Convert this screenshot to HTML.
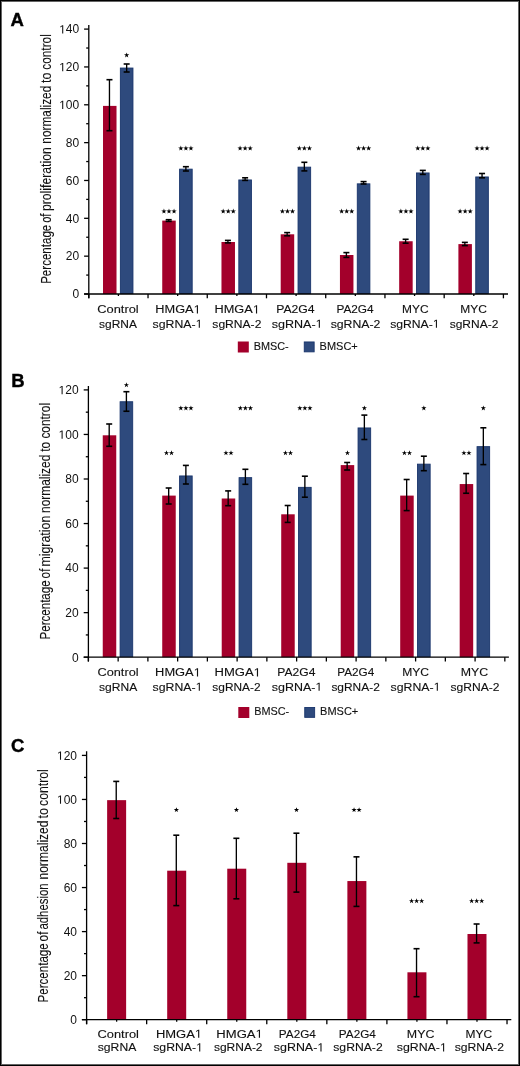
<!DOCTYPE html>
<html><head><meta charset="utf-8"><title>Figure</title><style>
html,body{margin:0;padding:0;background:#fff;}
svg{display:block;will-change:transform;}
text{font-family:"Liberation Sans", sans-serif;fill:#111;}
.xl{stroke:#111;stroke-width:0.12px;}
.yl{stroke:#111;stroke-width:0.1px;}
.tk{}
.h1{fill-opacity:0;stroke-opacity:0;}
.o1{fill:#111;}
path.xl{stroke:#111;stroke-width:0.12px;}
.pl{font-weight:bold;stroke:#000;stroke-width:0.4px;fill:#000;}
</style></head><body>
<svg width="520" height="1066" viewBox="0 0 520 1066">
<rect x="0" y="0" width="520" height="1066" fill="#fff"/>
<rect x="103.01" y="105.90" width="13.50" height="188.10" fill="#a3002b"/>
<line x1="109.46" y1="79.70" x2="109.46" y2="130.70" stroke="#000" stroke-width="1.35"/>
<line x1="106.46" y1="79.70" x2="112.46" y2="79.70" stroke="#000" stroke-width="1.6"/>
<line x1="106.46" y1="130.70" x2="112.46" y2="130.70" stroke="#000" stroke-width="1.6"/>
<rect x="120.36" y="68.05" width="12.60" height="225.50" fill="#2e4a7d" stroke="#18346b" stroke-width="0.9"/>
<line x1="126.66" y1="64.00" x2="126.66" y2="72.00" stroke="#000" stroke-width="1.35"/>
<line x1="123.66" y1="64.00" x2="129.66" y2="64.00" stroke="#000" stroke-width="1.6"/>
<line x1="123.66" y1="72.00" x2="129.66" y2="72.00" stroke="#000" stroke-width="1.6"/>
<rect x="162.24" y="220.60" width="13.50" height="73.40" fill="#a3002b"/>
<line x1="168.69" y1="219.70" x2="168.69" y2="221.40" stroke="#000" stroke-width="1.35"/>
<line x1="165.69" y1="219.70" x2="171.69" y2="219.70" stroke="#000" stroke-width="1.6"/>
<line x1="165.69" y1="221.40" x2="171.69" y2="221.40" stroke="#000" stroke-width="1.6"/>
<rect x="179.59" y="169.15" width="12.60" height="124.40" fill="#2e4a7d" stroke="#18346b" stroke-width="0.9"/>
<line x1="185.89" y1="166.70" x2="185.89" y2="171.00" stroke="#000" stroke-width="1.35"/>
<line x1="182.89" y1="166.70" x2="188.89" y2="166.70" stroke="#000" stroke-width="1.6"/>
<line x1="182.89" y1="171.00" x2="188.89" y2="171.00" stroke="#000" stroke-width="1.6"/>
<rect x="221.47" y="242.00" width="13.50" height="52.00" fill="#a3002b"/>
<line x1="227.92" y1="240.40" x2="227.92" y2="242.90" stroke="#000" stroke-width="1.35"/>
<line x1="224.92" y1="240.40" x2="230.92" y2="240.40" stroke="#000" stroke-width="1.6"/>
<line x1="224.92" y1="242.90" x2="230.92" y2="242.90" stroke="#000" stroke-width="1.6"/>
<rect x="238.82" y="179.95" width="12.60" height="113.60" fill="#2e4a7d" stroke="#18346b" stroke-width="0.9"/>
<line x1="245.12" y1="177.80" x2="245.12" y2="180.40" stroke="#000" stroke-width="1.35"/>
<line x1="242.12" y1="177.80" x2="248.12" y2="177.80" stroke="#000" stroke-width="1.6"/>
<line x1="242.12" y1="180.40" x2="248.12" y2="180.40" stroke="#000" stroke-width="1.6"/>
<rect x="280.70" y="234.30" width="13.50" height="59.70" fill="#a3002b"/>
<line x1="287.15" y1="232.60" x2="287.15" y2="235.80" stroke="#000" stroke-width="1.35"/>
<line x1="284.15" y1="232.60" x2="290.15" y2="232.60" stroke="#000" stroke-width="1.6"/>
<line x1="284.15" y1="235.80" x2="290.15" y2="235.80" stroke="#000" stroke-width="1.6"/>
<rect x="298.05" y="167.15" width="12.60" height="126.40" fill="#2e4a7d" stroke="#18346b" stroke-width="0.9"/>
<line x1="304.35" y1="162.30" x2="304.35" y2="170.90" stroke="#000" stroke-width="1.35"/>
<line x1="301.35" y1="162.30" x2="307.35" y2="162.30" stroke="#000" stroke-width="1.6"/>
<line x1="301.35" y1="170.90" x2="307.35" y2="170.90" stroke="#000" stroke-width="1.6"/>
<rect x="339.94" y="255.00" width="13.50" height="39.00" fill="#a3002b"/>
<line x1="346.38" y1="252.60" x2="346.38" y2="257.40" stroke="#000" stroke-width="1.35"/>
<line x1="343.38" y1="252.60" x2="349.38" y2="252.60" stroke="#000" stroke-width="1.6"/>
<line x1="343.38" y1="257.40" x2="349.38" y2="257.40" stroke="#000" stroke-width="1.6"/>
<rect x="357.28" y="183.85" width="12.60" height="109.70" fill="#2e4a7d" stroke="#18346b" stroke-width="0.9"/>
<line x1="363.58" y1="181.60" x2="363.58" y2="184.00" stroke="#000" stroke-width="1.35"/>
<line x1="360.58" y1="181.60" x2="366.58" y2="181.60" stroke="#000" stroke-width="1.6"/>
<line x1="360.58" y1="184.00" x2="366.58" y2="184.00" stroke="#000" stroke-width="1.6"/>
<rect x="399.17" y="241.25" width="13.50" height="52.75" fill="#a3002b"/>
<line x1="405.62" y1="239.30" x2="405.62" y2="243.20" stroke="#000" stroke-width="1.35"/>
<line x1="402.62" y1="239.30" x2="408.62" y2="239.30" stroke="#000" stroke-width="1.6"/>
<line x1="402.62" y1="243.20" x2="408.62" y2="243.20" stroke="#000" stroke-width="1.6"/>
<rect x="416.51" y="172.95" width="12.60" height="120.60" fill="#2e4a7d" stroke="#18346b" stroke-width="0.9"/>
<line x1="422.81" y1="170.40" x2="422.81" y2="174.40" stroke="#000" stroke-width="1.35"/>
<line x1="419.81" y1="170.40" x2="425.81" y2="170.40" stroke="#000" stroke-width="1.6"/>
<line x1="419.81" y1="174.40" x2="425.81" y2="174.40" stroke="#000" stroke-width="1.6"/>
<rect x="458.40" y="244.10" width="13.50" height="49.90" fill="#a3002b"/>
<line x1="464.85" y1="242.40" x2="464.85" y2="245.60" stroke="#000" stroke-width="1.35"/>
<line x1="461.85" y1="242.40" x2="467.85" y2="242.40" stroke="#000" stroke-width="1.6"/>
<line x1="461.85" y1="245.60" x2="467.85" y2="245.60" stroke="#000" stroke-width="1.6"/>
<rect x="475.75" y="176.95" width="12.60" height="116.60" fill="#2e4a7d" stroke="#18346b" stroke-width="0.9"/>
<line x1="482.05" y1="173.50" x2="482.05" y2="177.80" stroke="#000" stroke-width="1.35"/>
<line x1="479.05" y1="173.50" x2="485.05" y2="173.50" stroke="#000" stroke-width="1.6"/>
<line x1="479.05" y1="177.80" x2="485.05" y2="177.80" stroke="#000" stroke-width="1.6"/>
<polygon points="126.66,52.45 127.30,54.33 129.28,54.35 127.69,55.53 128.28,57.42 126.66,56.28 125.05,57.42 125.64,55.53 124.05,54.35 126.03,54.33" fill="#000"/>
<polygon points="163.94,208.55 164.58,210.43 166.56,210.45 164.97,211.63 165.56,213.52 163.94,212.38 162.33,213.52 162.92,211.63 161.33,210.45 163.31,210.43" fill="#000"/>
<polygon points="168.99,208.55 169.63,210.43 171.61,210.45 170.02,211.63 170.61,213.52 168.99,212.38 167.38,213.52 167.97,211.63 166.38,210.45 168.36,210.43" fill="#000"/>
<polygon points="174.04,208.55 174.68,210.43 176.66,210.45 175.07,211.63 175.66,213.52 174.04,212.38 172.43,213.52 173.02,211.63 171.43,210.45 173.41,210.43" fill="#000"/>
<polygon points="223.17,208.55 223.81,210.43 225.79,210.45 224.20,211.63 224.79,213.52 223.17,212.38 221.56,213.52 222.15,211.63 220.56,210.45 222.54,210.43" fill="#000"/>
<polygon points="228.22,208.55 228.86,210.43 230.84,210.45 229.25,211.63 229.84,213.52 228.22,212.38 226.61,213.52 227.20,211.63 225.61,210.45 227.59,210.43" fill="#000"/>
<polygon points="233.27,208.55 233.91,210.43 235.89,210.45 234.30,211.63 234.89,213.52 233.27,212.38 231.66,213.52 232.25,211.63 230.66,210.45 232.64,210.43" fill="#000"/>
<polygon points="282.40,208.55 283.04,210.43 285.02,210.45 283.43,211.63 284.02,213.52 282.40,212.38 280.79,213.52 281.38,211.63 279.79,210.45 281.77,210.43" fill="#000"/>
<polygon points="287.45,208.55 288.09,210.43 290.07,210.45 288.48,211.63 289.07,213.52 287.45,212.38 285.84,213.52 286.43,211.63 284.84,210.45 286.82,210.43" fill="#000"/>
<polygon points="292.50,208.55 293.14,210.43 295.12,210.45 293.53,211.63 294.12,213.52 292.50,212.38 290.89,213.52 291.48,211.63 289.89,210.45 291.87,210.43" fill="#000"/>
<polygon points="341.63,208.55 342.27,210.43 344.25,210.45 342.66,211.63 343.25,213.52 341.63,212.38 340.02,213.52 340.61,211.63 339.02,210.45 341.00,210.43" fill="#000"/>
<polygon points="346.69,208.55 347.32,210.43 349.30,210.45 347.71,211.63 348.30,213.52 346.69,212.38 345.07,213.52 345.66,211.63 344.07,210.45 346.05,210.43" fill="#000"/>
<polygon points="351.74,208.55 352.37,210.43 354.35,210.45 352.76,211.63 353.35,213.52 351.74,212.38 350.12,213.52 350.71,211.63 349.12,210.45 351.10,210.43" fill="#000"/>
<polygon points="400.87,208.55 401.50,210.43 403.48,210.45 401.89,211.63 402.48,213.52 400.87,212.38 399.25,213.52 399.84,211.63 398.25,210.45 400.23,210.43" fill="#000"/>
<polygon points="405.92,208.55 406.55,210.43 408.53,210.45 406.94,211.63 407.53,213.52 405.92,212.38 404.30,213.52 404.89,211.63 403.30,210.45 405.28,210.43" fill="#000"/>
<polygon points="410.97,208.55 411.60,210.43 413.58,210.45 411.99,211.63 412.58,213.52 410.97,212.38 409.35,213.52 409.94,211.63 408.35,210.45 410.33,210.43" fill="#000"/>
<polygon points="460.10,208.55 460.73,210.43 462.71,210.45 461.12,211.63 461.71,213.52 460.10,212.38 458.48,213.52 459.07,211.63 457.48,210.45 459.46,210.43" fill="#000"/>
<polygon points="465.15,208.55 465.78,210.43 467.76,210.45 466.17,211.63 466.76,213.52 465.15,212.38 463.53,213.52 464.12,211.63 462.53,210.45 464.51,210.43" fill="#000"/>
<polygon points="470.20,208.55 470.83,210.43 472.81,210.45 471.22,211.63 471.81,213.52 470.20,212.38 468.58,213.52 469.17,211.63 467.58,210.45 469.56,210.43" fill="#000"/>
<polygon points="180.84,145.55 181.48,147.43 183.46,147.45 181.87,148.63 182.46,150.52 180.84,149.38 179.23,150.52 179.82,148.63 178.23,147.45 180.21,147.43" fill="#000"/>
<polygon points="185.89,145.55 186.53,147.43 188.51,147.45 186.92,148.63 187.51,150.52 185.89,149.38 184.28,150.52 184.87,148.63 183.28,147.45 185.26,147.43" fill="#000"/>
<polygon points="190.94,145.55 191.58,147.43 193.56,147.45 191.97,148.63 192.56,150.52 190.94,149.38 189.33,150.52 189.92,148.63 188.33,147.45 190.31,147.43" fill="#000"/>
<polygon points="240.07,145.55 240.71,147.43 242.69,147.45 241.10,148.63 241.69,150.52 240.07,149.38 238.46,150.52 239.05,148.63 237.46,147.45 239.44,147.43" fill="#000"/>
<polygon points="245.12,145.55 245.76,147.43 247.74,147.45 246.15,148.63 246.74,150.52 245.12,149.38 243.51,150.52 244.10,148.63 242.51,147.45 244.49,147.43" fill="#000"/>
<polygon points="250.17,145.55 250.81,147.43 252.79,147.45 251.20,148.63 251.79,150.52 250.17,149.38 248.56,150.52 249.15,148.63 247.56,147.45 249.54,147.43" fill="#000"/>
<polygon points="299.30,145.55 299.94,147.43 301.92,147.45 300.33,148.63 300.92,150.52 299.30,149.38 297.69,150.52 298.28,148.63 296.69,147.45 298.67,147.43" fill="#000"/>
<polygon points="304.35,145.55 304.99,147.43 306.97,147.45 305.38,148.63 305.97,150.52 304.35,149.38 302.74,150.52 303.33,148.63 301.74,147.45 303.72,147.43" fill="#000"/>
<polygon points="309.40,145.55 310.04,147.43 312.02,147.45 310.43,148.63 311.02,150.52 309.40,149.38 307.79,150.52 308.38,148.63 306.79,147.45 308.77,147.43" fill="#000"/>
<polygon points="358.53,145.55 359.17,147.43 361.15,147.45 359.56,148.63 360.15,150.52 358.53,149.38 356.92,150.52 357.51,148.63 355.92,147.45 357.90,147.43" fill="#000"/>
<polygon points="363.58,145.55 364.22,147.43 366.20,147.45 364.61,148.63 365.20,150.52 363.58,149.38 361.97,150.52 362.56,148.63 360.97,147.45 362.95,147.43" fill="#000"/>
<polygon points="368.63,145.55 369.27,147.43 371.25,147.45 369.66,148.63 370.25,150.52 368.63,149.38 367.02,150.52 367.61,148.63 366.02,147.45 368.00,147.43" fill="#000"/>
<polygon points="417.76,145.55 418.40,147.43 420.38,147.45 418.79,148.63 419.38,150.52 417.76,149.38 416.15,150.52 416.74,148.63 415.15,147.45 417.13,147.43" fill="#000"/>
<polygon points="422.81,145.55 423.45,147.43 425.43,147.45 423.84,148.63 424.43,150.52 422.81,149.38 421.20,150.52 421.79,148.63 420.20,147.45 422.18,147.43" fill="#000"/>
<polygon points="427.87,145.55 428.50,147.43 430.48,147.45 428.89,148.63 429.48,150.52 427.87,149.38 426.25,150.52 426.84,148.63 425.25,147.45 427.23,147.43" fill="#000"/>
<polygon points="477.00,145.55 477.63,147.43 479.61,147.45 478.02,148.63 478.61,150.52 477.00,149.38 475.38,150.52 475.97,148.63 474.38,147.45 476.36,147.43" fill="#000"/>
<polygon points="482.05,145.55 482.68,147.43 484.66,147.45 483.07,148.63 483.66,150.52 482.05,149.38 480.43,150.52 481.02,148.63 479.43,147.45 481.41,147.43" fill="#000"/>
<polygon points="487.10,145.55 487.73,147.43 489.71,147.45 488.12,148.63 488.71,150.52 487.10,149.38 485.48,150.52 486.07,148.63 484.48,147.45 486.46,147.43" fill="#000"/>
<line x1="88.80" y1="25.00" x2="88.80" y2="298.30" stroke="#000" stroke-width="1.3"/>
<line x1="84.10" y1="294.00" x2="508.00" y2="294.00" stroke="#000" stroke-width="1.3"/>
<line x1="84.10" y1="294.00" x2="88.80" y2="294.00" stroke="#000" stroke-width="1.3"/>
<text x="79.20" y="298.30" font-size="12" text-anchor="end" class="tk">0</text>
<line x1="86.20" y1="275.08" x2="88.80" y2="275.08" stroke="#000" stroke-width="1.3"/>
<line x1="84.10" y1="256.16" x2="88.80" y2="256.16" stroke="#000" stroke-width="1.3"/>
<text x="79.20" y="260.46" font-size="12" text-anchor="end" class="tk">20</text>
<line x1="86.20" y1="237.24" x2="88.80" y2="237.24" stroke="#000" stroke-width="1.3"/>
<line x1="84.10" y1="218.31" x2="88.80" y2="218.31" stroke="#000" stroke-width="1.3"/>
<text x="79.20" y="222.61" font-size="12" text-anchor="end" class="tk">40</text>
<line x1="86.20" y1="199.39" x2="88.80" y2="199.39" stroke="#000" stroke-width="1.3"/>
<line x1="84.10" y1="180.47" x2="88.80" y2="180.47" stroke="#000" stroke-width="1.3"/>
<text x="79.20" y="184.77" font-size="12" text-anchor="end" class="tk">60</text>
<line x1="86.20" y1="161.55" x2="88.80" y2="161.55" stroke="#000" stroke-width="1.3"/>
<line x1="84.10" y1="142.63" x2="88.80" y2="142.63" stroke="#000" stroke-width="1.3"/>
<text x="79.20" y="146.93" font-size="12" text-anchor="end" class="tk">80</text>
<line x1="86.20" y1="123.71" x2="88.80" y2="123.71" stroke="#000" stroke-width="1.3"/>
<line x1="84.10" y1="104.79" x2="88.80" y2="104.79" stroke="#000" stroke-width="1.3"/>
<text id="t1" x="79.20" y="109.09" font-size="12" text-anchor="end" class="tk"><tspan class="h1">1</tspan>00</text>
<path class="o1 tk" transform="translate(59.153,109.09) scale(0.005871,-0.005859)" d="M515 0L515 1237L197 1010L197 1180L530 1409L696 1409L696 0Z"/>
<line x1="86.20" y1="85.86" x2="88.80" y2="85.86" stroke="#000" stroke-width="1.3"/>
<line x1="84.10" y1="66.94" x2="88.80" y2="66.94" stroke="#000" stroke-width="1.3"/>
<text id="t2" x="79.20" y="71.24" font-size="12" text-anchor="end" class="tk"><tspan class="h1">1</tspan>20</text>
<path class="o1 tk" transform="translate(59.153,71.24) scale(0.005871,-0.005859)" d="M515 0L515 1237L197 1010L197 1180L530 1409L696 1409L696 0Z"/>
<line x1="86.20" y1="48.02" x2="88.80" y2="48.02" stroke="#000" stroke-width="1.3"/>
<line x1="84.10" y1="29.10" x2="88.80" y2="29.10" stroke="#000" stroke-width="1.3"/>
<text id="t3" x="79.20" y="33.40" font-size="12" text-anchor="end" class="tk"><tspan class="h1">1</tspan>40</text>
<path class="o1 tk" transform="translate(59.153,33.40) scale(0.005871,-0.005859)" d="M515 0L515 1237L197 1010L197 1180L530 1409L696 1409L696 0Z"/>
<line x1="88.80" y1="294.00" x2="88.80" y2="298.30" stroke="#000" stroke-width="1.3"/>
<line x1="148.03" y1="294.00" x2="148.03" y2="298.30" stroke="#000" stroke-width="1.3"/>
<line x1="207.26" y1="294.00" x2="207.26" y2="298.30" stroke="#000" stroke-width="1.3"/>
<line x1="266.49" y1="294.00" x2="266.49" y2="298.30" stroke="#000" stroke-width="1.3"/>
<line x1="325.72" y1="294.00" x2="325.72" y2="298.30" stroke="#000" stroke-width="1.3"/>
<line x1="384.95" y1="294.00" x2="384.95" y2="298.30" stroke="#000" stroke-width="1.3"/>
<line x1="444.18" y1="294.00" x2="444.18" y2="298.30" stroke="#000" stroke-width="1.3"/>
<line x1="503.41" y1="294.00" x2="503.41" y2="298.30" stroke="#000" stroke-width="1.3"/>
<line x1="118.41" y1="294.00" x2="118.41" y2="296.00" stroke="#000" stroke-width="1.3"/>
<line x1="177.64" y1="294.00" x2="177.64" y2="296.00" stroke="#000" stroke-width="1.3"/>
<line x1="236.88" y1="294.00" x2="236.88" y2="296.00" stroke="#000" stroke-width="1.3"/>
<line x1="296.10" y1="294.00" x2="296.10" y2="296.00" stroke="#000" stroke-width="1.3"/>
<line x1="355.33" y1="294.00" x2="355.33" y2="296.00" stroke="#000" stroke-width="1.3"/>
<line x1="414.56" y1="294.00" x2="414.56" y2="296.00" stroke="#000" stroke-width="1.3"/>
<line x1="473.80" y1="294.00" x2="473.80" y2="296.00" stroke="#000" stroke-width="1.3"/>
<text x="97.29" y="313.40" font-size="11.7" text-anchor="start" textLength="41.42" lengthAdjust="spacingAndGlyphs" class="xl">Control</text>
<text x="99.00" y="327.70" font-size="11.7" text-anchor="start" textLength="37.91" lengthAdjust="spacingAndGlyphs" class="xl">sgRNA</text>
<text id="t4" x="155.36" y="313.40" font-size="11.7" text-anchor="start" textLength="45.38" lengthAdjust="spacingAndGlyphs" class="xl">HMGA<tspan class="h1">1</tspan></text>
<path class="o1 xl" transform="translate(193.629,313.40) scale(0.006244,-0.005713)" d="M515 0L515 1237L197 1010L197 1180L530 1409L696 1409L696 0Z"/>
<text id="t5" x="152.64" y="327.70" font-size="11.7" text-anchor="start" textLength="49.88" lengthAdjust="spacingAndGlyphs" class="xl">sgRNA-<tspan class="h1">1</tspan></text>
<path class="o1 xl" transform="translate(195.669,327.70) scale(0.006015,-0.005713)" d="M515 0L515 1237L197 1010L197 1180L530 1409L696 1409L696 0Z"/>
<text id="t6" x="214.46" y="313.40" font-size="11.7" text-anchor="start" textLength="45.41" lengthAdjust="spacingAndGlyphs" class="xl">HMGA<tspan class="h1">1</tspan></text>
<path class="o1 xl" transform="translate(252.754,313.40) scale(0.006248,-0.005713)" d="M515 0L515 1237L197 1010L197 1180L530 1409L696 1409L696 0Z"/>
<text x="212.35" y="327.70" font-size="11.7" text-anchor="start" textLength="49.01" lengthAdjust="spacingAndGlyphs" class="xl">sgRNA-2</text>
<text x="276.17" y="313.40" font-size="11.7" text-anchor="start" textLength="38.44" lengthAdjust="spacingAndGlyphs" class="xl">PA2G4</text>
<text id="t7" x="271.69" y="327.70" font-size="11.7" text-anchor="start" textLength="50.93" lengthAdjust="spacingAndGlyphs" class="xl">sgRNA-<tspan class="h1">1</tspan></text>
<path class="o1 xl" transform="translate(315.625,327.70) scale(0.006142,-0.005713)" d="M515 0L515 1237L197 1010L197 1180L530 1409L696 1409L696 0Z"/>
<text x="336.40" y="313.40" font-size="11.7" text-anchor="start" textLength="37.2" lengthAdjust="spacingAndGlyphs" class="xl">PA2G4</text>
<text x="330.65" y="327.70" font-size="11.7" text-anchor="start" textLength="49.82" lengthAdjust="spacingAndGlyphs" class="xl">sgRNA-2</text>
<text x="402.12" y="313.40" font-size="11.7" text-anchor="start" textLength="26.5" lengthAdjust="spacingAndGlyphs" class="xl">MYC</text>
<text id="t8" x="390.15" y="327.70" font-size="11.7" text-anchor="start" textLength="49.46" lengthAdjust="spacingAndGlyphs" class="xl">sgRNA-<tspan class="h1">1</tspan></text>
<path class="o1 xl" transform="translate(432.817,327.70) scale(0.005964,-0.005713)" d="M515 0L515 1237L197 1010L197 1180L530 1409L696 1409L696 0Z"/>
<text x="460.25" y="313.40" font-size="11.7" text-anchor="start" textLength="26.6" lengthAdjust="spacingAndGlyphs" class="xl">MYC</text>
<text x="449.69" y="327.70" font-size="11.7" text-anchor="start" textLength="48.62" lengthAdjust="spacingAndGlyphs" class="xl">sgRNA-2</text>
<text class="yl" transform="translate(50.60,283.85) rotate(-90)" x="0" y="0" font-size="14.8" text-anchor="start" textLength="59.16" lengthAdjust="spacingAndGlyphs">Percentage</text>
<text class="yl" transform="translate(50.60,222.87) rotate(-90)" x="0" y="0" font-size="14.8" text-anchor="start" textLength="9.35" lengthAdjust="spacingAndGlyphs">of</text>
<text class="yl" transform="translate(50.60,210.99) rotate(-90)" x="0" y="0" font-size="14.8" text-anchor="start" textLength="63.68" lengthAdjust="spacingAndGlyphs">proliferation</text>
<text class="yl" transform="translate(50.60,143.69) rotate(-90)" x="0" y="0" font-size="14.8" text-anchor="start" textLength="57.95" lengthAdjust="spacingAndGlyphs">normalized</text>
<text class="yl" transform="translate(50.60,82.89) rotate(-90)" x="0" y="0" font-size="14.8" text-anchor="start" textLength="10.31" lengthAdjust="spacingAndGlyphs">to</text>
<text class="yl" transform="translate(50.60,69.70) rotate(-90)" x="0" y="0" font-size="14.8" text-anchor="start" textLength="35.49" lengthAdjust="spacingAndGlyphs">control</text>
<rect x="237.80" y="341.50" width="11.00" height="11.00" fill="#a3002b"/>
<text x="253.70" y="349.90" font-size="11" text-anchor="start" textLength="35" lengthAdjust="spacingAndGlyphs" class="xl">BMSC-</text>
<rect x="304.25" y="341.95" width="9.90" height="9.90" fill="#2e4a7d" stroke="#18346b" stroke-width="0.9"/>
<text x="319.60" y="349.90" font-size="11" text-anchor="start" textLength="38.2" lengthAdjust="spacingAndGlyphs" class="xl">BMSC+</text>
<text x="10.60" y="25.70" font-size="18.5" text-anchor="start" class="pl">A</text>
<rect x="102.75" y="435.30" width="13.50" height="221.90" fill="#a3002b"/>
<line x1="109.20" y1="424.00" x2="109.20" y2="446.30" stroke="#000" stroke-width="1.35"/>
<line x1="106.20" y1="424.00" x2="112.20" y2="424.00" stroke="#000" stroke-width="1.6"/>
<line x1="106.20" y1="446.30" x2="112.20" y2="446.30" stroke="#000" stroke-width="1.6"/>
<rect x="120.10" y="401.75" width="12.60" height="255.00" fill="#2e4a7d" stroke="#18346b" stroke-width="0.9"/>
<line x1="126.40" y1="391.70" x2="126.40" y2="411.25" stroke="#000" stroke-width="1.35"/>
<line x1="123.40" y1="391.70" x2="129.40" y2="391.70" stroke="#000" stroke-width="1.6"/>
<line x1="123.40" y1="411.25" x2="129.40" y2="411.25" stroke="#000" stroke-width="1.6"/>
<rect x="162.23" y="495.60" width="13.50" height="161.60" fill="#a3002b"/>
<line x1="168.68" y1="488.00" x2="168.68" y2="504.00" stroke="#000" stroke-width="1.35"/>
<line x1="165.68" y1="488.00" x2="171.68" y2="488.00" stroke="#000" stroke-width="1.6"/>
<line x1="165.68" y1="504.00" x2="171.68" y2="504.00" stroke="#000" stroke-width="1.6"/>
<rect x="179.58" y="475.95" width="12.60" height="180.80" fill="#2e4a7d" stroke="#18346b" stroke-width="0.9"/>
<line x1="185.88" y1="465.40" x2="185.88" y2="484.00" stroke="#000" stroke-width="1.35"/>
<line x1="182.88" y1="465.40" x2="188.88" y2="465.40" stroke="#000" stroke-width="1.6"/>
<line x1="182.88" y1="484.00" x2="188.88" y2="484.00" stroke="#000" stroke-width="1.6"/>
<rect x="221.72" y="498.50" width="13.50" height="158.70" fill="#a3002b"/>
<line x1="228.17" y1="490.90" x2="228.17" y2="505.70" stroke="#000" stroke-width="1.35"/>
<line x1="225.17" y1="490.90" x2="231.17" y2="490.90" stroke="#000" stroke-width="1.6"/>
<line x1="225.17" y1="505.70" x2="231.17" y2="505.70" stroke="#000" stroke-width="1.6"/>
<rect x="239.07" y="477.65" width="12.60" height="179.10" fill="#2e4a7d" stroke="#18346b" stroke-width="0.9"/>
<line x1="245.38" y1="469.30" x2="245.38" y2="484.30" stroke="#000" stroke-width="1.35"/>
<line x1="242.38" y1="469.30" x2="248.38" y2="469.30" stroke="#000" stroke-width="1.6"/>
<line x1="242.38" y1="484.30" x2="248.38" y2="484.30" stroke="#000" stroke-width="1.6"/>
<rect x="281.22" y="514.30" width="13.50" height="142.90" fill="#a3002b"/>
<line x1="287.67" y1="505.50" x2="287.67" y2="522.40" stroke="#000" stroke-width="1.35"/>
<line x1="284.67" y1="505.50" x2="290.67" y2="505.50" stroke="#000" stroke-width="1.6"/>
<line x1="284.67" y1="522.40" x2="290.67" y2="522.40" stroke="#000" stroke-width="1.6"/>
<rect x="298.56" y="487.35" width="12.60" height="169.40" fill="#2e4a7d" stroke="#18346b" stroke-width="0.9"/>
<line x1="304.87" y1="476.20" x2="304.87" y2="497.20" stroke="#000" stroke-width="1.35"/>
<line x1="301.87" y1="476.20" x2="307.87" y2="476.20" stroke="#000" stroke-width="1.6"/>
<line x1="301.87" y1="497.20" x2="307.87" y2="497.20" stroke="#000" stroke-width="1.6"/>
<rect x="340.71" y="465.10" width="13.50" height="192.10" fill="#a3002b"/>
<line x1="347.16" y1="462.50" x2="347.16" y2="470.00" stroke="#000" stroke-width="1.35"/>
<line x1="344.16" y1="462.50" x2="350.16" y2="462.50" stroke="#000" stroke-width="1.6"/>
<line x1="344.16" y1="470.00" x2="350.16" y2="470.00" stroke="#000" stroke-width="1.6"/>
<rect x="358.06" y="427.95" width="12.60" height="228.80" fill="#2e4a7d" stroke="#18346b" stroke-width="0.9"/>
<line x1="364.36" y1="415.10" x2="364.36" y2="439.50" stroke="#000" stroke-width="1.35"/>
<line x1="361.36" y1="415.10" x2="367.36" y2="415.10" stroke="#000" stroke-width="1.6"/>
<line x1="361.36" y1="439.50" x2="367.36" y2="439.50" stroke="#000" stroke-width="1.6"/>
<rect x="400.20" y="495.60" width="13.50" height="161.60" fill="#a3002b"/>
<line x1="406.65" y1="479.50" x2="406.65" y2="510.60" stroke="#000" stroke-width="1.35"/>
<line x1="403.65" y1="479.50" x2="409.65" y2="479.50" stroke="#000" stroke-width="1.6"/>
<line x1="403.65" y1="510.60" x2="409.65" y2="510.60" stroke="#000" stroke-width="1.6"/>
<rect x="417.55" y="464.15" width="12.60" height="192.60" fill="#2e4a7d" stroke="#18346b" stroke-width="0.9"/>
<line x1="423.85" y1="456.20" x2="423.85" y2="470.70" stroke="#000" stroke-width="1.35"/>
<line x1="420.85" y1="456.20" x2="426.85" y2="456.20" stroke="#000" stroke-width="1.6"/>
<line x1="420.85" y1="470.70" x2="426.85" y2="470.70" stroke="#000" stroke-width="1.6"/>
<rect x="459.69" y="484.05" width="13.50" height="173.15" fill="#a3002b"/>
<line x1="466.14" y1="473.50" x2="466.14" y2="493.25" stroke="#000" stroke-width="1.35"/>
<line x1="463.14" y1="473.50" x2="469.14" y2="473.50" stroke="#000" stroke-width="1.6"/>
<line x1="463.14" y1="493.25" x2="469.14" y2="493.25" stroke="#000" stroke-width="1.6"/>
<rect x="477.04" y="446.65" width="12.60" height="210.10" fill="#2e4a7d" stroke="#18346b" stroke-width="0.9"/>
<line x1="483.34" y1="427.80" x2="483.34" y2="464.60" stroke="#000" stroke-width="1.35"/>
<line x1="480.34" y1="427.80" x2="486.34" y2="427.80" stroke="#000" stroke-width="1.6"/>
<line x1="480.34" y1="464.60" x2="486.34" y2="464.60" stroke="#000" stroke-width="1.6"/>
<polygon points="126.40,382.25 127.03,384.13 129.01,384.15 127.42,385.33 128.01,387.22 126.40,386.08 124.78,387.22 125.37,385.33 123.78,384.15 125.76,384.13" fill="#000"/>
<polygon points="166.46,450.25 167.09,452.13 169.08,452.15 167.49,453.33 168.08,455.22 166.46,454.08 164.84,455.22 165.43,453.33 163.84,452.15 165.83,452.13" fill="#000"/>
<polygon points="171.51,450.25 172.14,452.13 174.13,452.15 172.54,453.33 173.13,455.22 171.51,454.08 169.89,455.22 170.48,453.33 168.89,452.15 170.88,452.13" fill="#000"/>
<polygon points="225.95,450.25 226.58,452.13 228.57,452.15 226.98,453.33 227.57,455.22 225.95,454.08 224.33,455.22 224.92,453.33 223.33,452.15 225.32,452.13" fill="#000"/>
<polygon points="231.00,450.25 231.63,452.13 233.62,452.15 232.03,453.33 232.62,455.22 231.00,454.08 229.38,455.22 229.97,453.33 228.38,452.15 230.37,452.13" fill="#000"/>
<polygon points="285.44,450.25 286.07,452.13 288.06,452.15 286.47,453.33 287.06,455.22 285.44,454.08 283.82,455.22 284.41,453.33 282.82,452.15 284.81,452.13" fill="#000"/>
<polygon points="290.49,450.25 291.12,452.13 293.11,452.15 291.52,453.33 292.11,455.22 290.49,454.08 288.87,455.22 289.46,453.33 287.87,452.15 289.86,452.13" fill="#000"/>
<polygon points="347.46,450.25 348.09,452.13 350.07,452.15 348.48,453.33 349.07,455.22 347.46,454.08 345.84,455.22 346.43,453.33 344.84,452.15 346.82,452.13" fill="#000"/>
<polygon points="404.42,450.25 405.05,452.13 407.04,452.15 405.45,453.33 406.04,455.22 404.42,454.08 402.80,455.22 403.39,453.33 401.80,452.15 403.79,452.13" fill="#000"/>
<polygon points="409.47,450.25 410.10,452.13 412.09,452.15 410.50,453.33 411.09,455.22 409.47,454.08 407.85,455.22 408.44,453.33 406.85,452.15 408.84,452.13" fill="#000"/>
<polygon points="463.91,450.25 464.54,452.13 466.53,452.15 464.94,453.33 465.53,455.22 463.91,454.08 462.29,455.22 462.88,453.33 461.29,452.15 463.28,452.13" fill="#000"/>
<polygon points="468.96,450.25 469.59,452.13 471.58,452.15 469.99,453.33 470.58,455.22 468.96,454.08 467.34,455.22 467.93,453.33 466.34,452.15 468.33,452.13" fill="#000"/>
<polygon points="180.83,405.45 181.47,407.33 183.45,407.35 181.86,408.53 182.45,410.42 180.83,409.28 179.22,410.42 179.81,408.53 178.22,407.35 180.20,407.33" fill="#000"/>
<polygon points="185.88,405.45 186.52,407.33 188.50,407.35 186.91,408.53 187.50,410.42 185.88,409.28 184.27,410.42 184.86,408.53 183.27,407.35 185.25,407.33" fill="#000"/>
<polygon points="190.93,405.45 191.57,407.33 193.55,407.35 191.96,408.53 192.55,410.42 190.93,409.28 189.32,410.42 189.91,408.53 188.32,407.35 190.30,407.33" fill="#000"/>
<polygon points="240.32,405.45 240.96,407.33 242.94,407.35 241.35,408.53 241.94,410.42 240.32,409.28 238.71,410.42 239.30,408.53 237.71,407.35 239.69,407.33" fill="#000"/>
<polygon points="245.38,405.45 246.01,407.33 247.99,407.35 246.40,408.53 246.99,410.42 245.38,409.28 243.76,410.42 244.35,408.53 242.76,407.35 244.74,407.33" fill="#000"/>
<polygon points="250.42,405.45 251.06,407.33 253.04,407.35 251.45,408.53 252.04,410.42 250.42,409.28 248.81,410.42 249.40,408.53 247.81,407.35 249.79,407.33" fill="#000"/>
<polygon points="299.81,405.45 300.45,407.33 302.43,407.35 300.84,408.53 301.43,410.42 299.81,409.28 298.20,410.42 298.79,408.53 297.20,407.35 299.18,407.33" fill="#000"/>
<polygon points="304.87,405.45 305.50,407.33 307.48,407.35 305.89,408.53 306.48,410.42 304.87,409.28 303.25,410.42 303.84,408.53 302.25,407.35 304.23,407.33" fill="#000"/>
<polygon points="309.92,405.45 310.55,407.33 312.53,407.35 310.94,408.53 311.53,410.42 309.92,409.28 308.30,410.42 308.89,408.53 307.30,407.35 309.28,407.33" fill="#000"/>
<polygon points="364.36,405.45 364.99,407.33 366.97,407.35 365.38,408.53 365.97,410.42 364.36,409.28 362.74,410.42 363.33,408.53 361.74,407.35 363.72,407.33" fill="#000"/>
<polygon points="423.85,405.45 424.48,407.33 426.46,407.35 424.87,408.53 425.46,410.42 423.85,409.28 422.23,410.42 422.82,408.53 421.23,407.35 423.21,407.33" fill="#000"/>
<polygon points="483.34,405.45 483.97,407.33 485.95,407.35 484.36,408.53 484.95,410.42 483.34,409.28 481.72,410.42 482.31,408.53 480.72,407.35 482.70,407.33" fill="#000"/>
<line x1="88.40" y1="386.00" x2="88.40" y2="661.50" stroke="#000" stroke-width="1.3"/>
<line x1="83.70" y1="657.20" x2="508.90" y2="657.20" stroke="#000" stroke-width="1.3"/>
<line x1="83.70" y1="657.20" x2="88.40" y2="657.20" stroke="#000" stroke-width="1.3"/>
<text x="78.60" y="661.50" font-size="12" text-anchor="end" class="tk">0</text>
<line x1="85.80" y1="634.93" x2="88.40" y2="634.93" stroke="#000" stroke-width="1.3"/>
<line x1="83.70" y1="612.65" x2="88.40" y2="612.65" stroke="#000" stroke-width="1.3"/>
<text x="78.60" y="616.95" font-size="12" text-anchor="end" class="tk">20</text>
<line x1="85.80" y1="590.38" x2="88.40" y2="590.38" stroke="#000" stroke-width="1.3"/>
<line x1="83.70" y1="568.10" x2="88.40" y2="568.10" stroke="#000" stroke-width="1.3"/>
<text x="78.60" y="572.40" font-size="12" text-anchor="end" class="tk">40</text>
<line x1="85.80" y1="545.83" x2="88.40" y2="545.83" stroke="#000" stroke-width="1.3"/>
<line x1="83.70" y1="523.55" x2="88.40" y2="523.55" stroke="#000" stroke-width="1.3"/>
<text x="78.60" y="527.85" font-size="12" text-anchor="end" class="tk">60</text>
<line x1="85.80" y1="501.27" x2="88.40" y2="501.27" stroke="#000" stroke-width="1.3"/>
<line x1="83.70" y1="479.00" x2="88.40" y2="479.00" stroke="#000" stroke-width="1.3"/>
<text x="78.60" y="483.30" font-size="12" text-anchor="end" class="tk">80</text>
<line x1="85.80" y1="456.73" x2="88.40" y2="456.73" stroke="#000" stroke-width="1.3"/>
<line x1="83.70" y1="434.45" x2="88.40" y2="434.45" stroke="#000" stroke-width="1.3"/>
<text id="t9" x="78.60" y="438.75" font-size="12" text-anchor="end" class="tk"><tspan class="h1">1</tspan>00</text>
<path class="o1 tk" transform="translate(58.553,438.75) scale(0.005871,-0.005859)" d="M515 0L515 1237L197 1010L197 1180L530 1409L696 1409L696 0Z"/>
<line x1="85.80" y1="412.17" x2="88.40" y2="412.17" stroke="#000" stroke-width="1.3"/>
<line x1="83.70" y1="389.90" x2="88.40" y2="389.90" stroke="#000" stroke-width="1.3"/>
<text id="t10" x="78.60" y="394.20" font-size="12" text-anchor="end" class="tk"><tspan class="h1">1</tspan>20</text>
<path class="o1 tk" transform="translate(58.553,394.20) scale(0.005871,-0.005859)" d="M515 0L515 1237L197 1010L197 1180L530 1409L696 1409L696 0Z"/>
<line x1="88.40" y1="657.20" x2="88.40" y2="661.50" stroke="#000" stroke-width="1.3"/>
<line x1="147.89" y1="657.20" x2="147.89" y2="661.50" stroke="#000" stroke-width="1.3"/>
<line x1="207.38" y1="657.20" x2="207.38" y2="661.50" stroke="#000" stroke-width="1.3"/>
<line x1="266.87" y1="657.20" x2="266.87" y2="661.50" stroke="#000" stroke-width="1.3"/>
<line x1="326.36" y1="657.20" x2="326.36" y2="661.50" stroke="#000" stroke-width="1.3"/>
<line x1="385.85" y1="657.20" x2="385.85" y2="661.50" stroke="#000" stroke-width="1.3"/>
<line x1="445.34" y1="657.20" x2="445.34" y2="661.50" stroke="#000" stroke-width="1.3"/>
<line x1="504.83" y1="657.20" x2="504.83" y2="661.50" stroke="#000" stroke-width="1.3"/>
<line x1="118.15" y1="657.20" x2="118.15" y2="661.50" stroke="#000" stroke-width="1.3"/>
<line x1="177.63" y1="657.20" x2="177.63" y2="661.50" stroke="#000" stroke-width="1.3"/>
<line x1="237.12" y1="657.20" x2="237.12" y2="661.50" stroke="#000" stroke-width="1.3"/>
<line x1="296.62" y1="657.20" x2="296.62" y2="661.50" stroke="#000" stroke-width="1.3"/>
<line x1="356.11" y1="657.20" x2="356.11" y2="661.50" stroke="#000" stroke-width="1.3"/>
<line x1="415.60" y1="657.20" x2="415.60" y2="661.50" stroke="#000" stroke-width="1.3"/>
<line x1="475.09" y1="657.20" x2="475.09" y2="661.50" stroke="#000" stroke-width="1.3"/>
<text x="97.54" y="676.40" font-size="11.7" text-anchor="start" textLength="41.01" lengthAdjust="spacingAndGlyphs" class="xl">Control</text>
<text x="99.02" y="690.70" font-size="11.7" text-anchor="start" textLength="38.21" lengthAdjust="spacingAndGlyphs" class="xl">sgRNA</text>
<text id="t11" x="155.12" y="676.40" font-size="11.7" text-anchor="start" textLength="45.74" lengthAdjust="spacingAndGlyphs" class="xl">HMGA<tspan class="h1">1</tspan></text>
<path class="o1 xl" transform="translate(193.692,676.40) scale(0.006293,-0.005713)" d="M515 0L515 1237L197 1010L197 1180L530 1409L696 1409L696 0Z"/>
<text id="t12" x="152.64" y="690.70" font-size="11.7" text-anchor="start" textLength="49.88" lengthAdjust="spacingAndGlyphs" class="xl">sgRNA-<tspan class="h1">1</tspan></text>
<path class="o1 xl" transform="translate(195.669,690.70) scale(0.006015,-0.005713)" d="M515 0L515 1237L197 1010L197 1180L530 1409L696 1409L696 0Z"/>
<text id="t13" x="214.49" y="676.40" font-size="11.7" text-anchor="start" textLength="46.39" lengthAdjust="spacingAndGlyphs" class="xl">HMGA<tspan class="h1">1</tspan></text>
<path class="o1 xl" transform="translate(253.610,676.40) scale(0.006383,-0.005713)" d="M515 0L515 1237L197 1010L197 1180L530 1409L696 1409L696 0Z"/>
<text x="212.34" y="690.70" font-size="11.7" text-anchor="start" textLength="48.21" lengthAdjust="spacingAndGlyphs" class="xl">sgRNA-2</text>
<text x="277.30" y="676.40" font-size="11.7" text-anchor="start" textLength="38.13" lengthAdjust="spacingAndGlyphs" class="xl">PA2G4</text>
<text id="t14" x="271.84" y="690.70" font-size="11.7" text-anchor="start" textLength="50.52" lengthAdjust="spacingAndGlyphs" class="xl">sgRNA-<tspan class="h1">1</tspan></text>
<path class="o1 xl" transform="translate(315.421,690.70) scale(0.006092,-0.005713)" d="M515 0L515 1237L197 1010L197 1180L530 1409L696 1409L696 0Z"/>
<text x="337.25" y="676.40" font-size="11.7" text-anchor="start" textLength="37.0" lengthAdjust="spacingAndGlyphs" class="xl">PA2G4</text>
<text x="331.40" y="690.70" font-size="11.7" text-anchor="start" textLength="48.4" lengthAdjust="spacingAndGlyphs" class="xl">sgRNA-2</text>
<text x="402.29" y="676.40" font-size="11.7" text-anchor="start" textLength="26.81" lengthAdjust="spacingAndGlyphs" class="xl">MYC</text>
<text id="t15" x="390.64" y="690.70" font-size="11.7" text-anchor="start" textLength="49.88" lengthAdjust="spacingAndGlyphs" class="xl">sgRNA-<tspan class="h1">1</tspan></text>
<path class="o1 xl" transform="translate(433.669,690.70) scale(0.006015,-0.005713)" d="M515 0L515 1237L197 1010L197 1180L530 1409L696 1409L696 0Z"/>
<text x="460.79" y="676.40" font-size="11.7" text-anchor="start" textLength="27.42" lengthAdjust="spacingAndGlyphs" class="xl">MYC</text>
<text x="450.54" y="690.70" font-size="11.7" text-anchor="start" textLength="49.01" lengthAdjust="spacingAndGlyphs" class="xl">sgRNA-2</text>
<text class="yl" transform="translate(50.10,639.45) rotate(-90)" x="0" y="0" font-size="14.8" text-anchor="start" textLength="59.06" lengthAdjust="spacingAndGlyphs">Percentage</text>
<text class="yl" transform="translate(50.10,578.39) rotate(-90)" x="0" y="0" font-size="14.8" text-anchor="start" textLength="9.78" lengthAdjust="spacingAndGlyphs">of</text>
<text class="yl" transform="translate(50.10,566.62) rotate(-90)" x="0" y="0" font-size="14.8" text-anchor="start" textLength="50.93" lengthAdjust="spacingAndGlyphs">migration</text>
<text class="yl" transform="translate(50.10,512.99) rotate(-90)" x="0" y="0" font-size="14.8" text-anchor="start" textLength="58.26" lengthAdjust="spacingAndGlyphs">normalized</text>
<text class="yl" transform="translate(50.10,451.68) rotate(-90)" x="0" y="0" font-size="14.8" text-anchor="start" textLength="9.88" lengthAdjust="spacingAndGlyphs">to</text>
<text class="yl" transform="translate(50.10,438.61) rotate(-90)" x="0" y="0" font-size="14.8" text-anchor="start" textLength="35.70" lengthAdjust="spacingAndGlyphs">control</text>
<rect x="238.30" y="707.00" width="11.00" height="11.00" fill="#a3002b"/>
<text x="254.20" y="715.20" font-size="11" text-anchor="start" textLength="35" lengthAdjust="spacingAndGlyphs" class="xl">BMSC-</text>
<rect x="304.75" y="707.45" width="9.90" height="9.90" fill="#2e4a7d" stroke="#18346b" stroke-width="0.9"/>
<text x="320.10" y="715.20" font-size="11" text-anchor="start" textLength="38.2" lengthAdjust="spacingAndGlyphs" class="xl">BMSC+</text>
<text x="11.20" y="386.70" font-size="18.5" text-anchor="start" class="pl">B</text>
<rect x="107.13" y="800.15" width="19.00" height="219.55" fill="#a3002b"/>
<line x1="116.23" y1="781.40" x2="116.23" y2="818.50" stroke="#000" stroke-width="1.35"/>
<line x1="113.23" y1="781.40" x2="119.23" y2="781.40" stroke="#000" stroke-width="1.6"/>
<line x1="113.23" y1="818.50" x2="119.23" y2="818.50" stroke="#000" stroke-width="1.6"/>
<rect x="167.19" y="870.70" width="19.00" height="149.00" fill="#a3002b"/>
<line x1="176.29" y1="835.20" x2="176.29" y2="905.60" stroke="#000" stroke-width="1.35"/>
<line x1="173.29" y1="835.20" x2="179.29" y2="835.20" stroke="#000" stroke-width="1.6"/>
<line x1="173.29" y1="905.60" x2="179.29" y2="905.60" stroke="#000" stroke-width="1.6"/>
<rect x="227.25" y="868.70" width="19.00" height="151.00" fill="#a3002b"/>
<line x1="236.35" y1="838.30" x2="236.35" y2="898.80" stroke="#000" stroke-width="1.35"/>
<line x1="233.35" y1="838.30" x2="239.35" y2="838.30" stroke="#000" stroke-width="1.6"/>
<line x1="233.35" y1="898.80" x2="239.35" y2="898.80" stroke="#000" stroke-width="1.6"/>
<rect x="287.31" y="862.80" width="19.00" height="156.90" fill="#a3002b"/>
<line x1="296.41" y1="833.20" x2="296.41" y2="892.10" stroke="#000" stroke-width="1.35"/>
<line x1="293.41" y1="833.20" x2="299.41" y2="833.20" stroke="#000" stroke-width="1.6"/>
<line x1="293.41" y1="892.10" x2="299.41" y2="892.10" stroke="#000" stroke-width="1.6"/>
<rect x="347.37" y="881.05" width="19.00" height="138.65" fill="#a3002b"/>
<line x1="356.47" y1="856.85" x2="356.47" y2="906.40" stroke="#000" stroke-width="1.35"/>
<line x1="353.47" y1="856.85" x2="359.47" y2="856.85" stroke="#000" stroke-width="1.6"/>
<line x1="353.47" y1="906.40" x2="359.47" y2="906.40" stroke="#000" stroke-width="1.6"/>
<rect x="407.43" y="972.30" width="19.00" height="47.40" fill="#a3002b"/>
<line x1="416.53" y1="948.70" x2="416.53" y2="996.70" stroke="#000" stroke-width="1.35"/>
<line x1="413.53" y1="948.70" x2="419.53" y2="948.70" stroke="#000" stroke-width="1.6"/>
<line x1="413.53" y1="996.70" x2="419.53" y2="996.70" stroke="#000" stroke-width="1.6"/>
<rect x="467.49" y="934.00" width="19.00" height="85.70" fill="#a3002b"/>
<line x1="476.59" y1="924.00" x2="476.59" y2="942.90" stroke="#000" stroke-width="1.35"/>
<line x1="473.59" y1="924.00" x2="479.59" y2="924.00" stroke="#000" stroke-width="1.6"/>
<line x1="473.59" y1="942.90" x2="479.59" y2="942.90" stroke="#000" stroke-width="1.6"/>
<polygon points="176.39,807.15 177.02,809.03 179.01,809.05 177.42,810.23 178.01,812.12 176.39,810.98 174.77,812.12 175.36,810.23 173.77,809.05 175.76,809.03" fill="#000"/>
<polygon points="236.45,807.15 237.08,809.03 239.07,809.05 237.48,810.23 238.07,812.12 236.45,810.98 234.83,812.12 235.42,810.23 233.83,809.05 235.82,809.03" fill="#000"/>
<polygon points="296.51,807.15 297.14,809.03 299.13,809.05 297.54,810.23 298.13,812.12 296.51,810.98 294.89,812.12 295.48,810.23 293.89,809.05 295.88,809.03" fill="#000"/>
<polygon points="354.05,807.15 354.68,809.03 356.66,809.05 355.07,810.23 355.66,812.12 354.05,810.98 352.43,812.12 353.02,810.23 351.43,809.05 353.41,809.03" fill="#000"/>
<polygon points="359.10,807.15 359.73,809.03 361.71,809.05 360.12,810.23 360.71,812.12 359.10,810.98 357.48,812.12 358.07,810.23 356.48,809.05 358.46,809.03" fill="#000"/>
<polygon points="411.58,898.25 412.21,900.13 414.20,900.15 412.61,901.33 413.20,903.22 411.58,902.08 409.96,903.22 410.55,901.33 408.96,900.15 410.95,900.13" fill="#000"/>
<polygon points="416.63,898.25 417.26,900.13 419.25,900.15 417.66,901.33 418.25,903.22 416.63,902.08 415.01,903.22 415.60,901.33 414.01,900.15 416.00,900.13" fill="#000"/>
<polygon points="421.68,898.25 422.31,900.13 424.30,900.15 422.71,901.33 423.30,903.22 421.68,902.08 420.06,903.22 420.65,901.33 419.06,900.15 421.05,900.13" fill="#000"/>
<polygon points="471.64,898.25 472.27,900.13 474.26,900.15 472.67,901.33 473.26,903.22 471.64,902.08 470.02,903.22 470.61,901.33 469.02,900.15 471.01,900.13" fill="#000"/>
<polygon points="476.69,898.25 477.32,900.13 479.31,900.15 477.72,901.33 478.31,903.22 476.69,902.08 475.07,903.22 475.66,901.33 474.07,900.15 476.06,900.13" fill="#000"/>
<polygon points="481.74,898.25 482.37,900.13 484.36,900.15 482.77,901.33 483.36,903.22 481.74,902.08 480.12,903.22 480.71,901.33 479.12,900.15 481.11,900.13" fill="#000"/>
<line x1="86.60" y1="751.30" x2="86.60" y2="1024.20" stroke="#000" stroke-width="1.3"/>
<line x1="81.90" y1="1019.70" x2="511.30" y2="1019.70" stroke="#000" stroke-width="1.3"/>
<line x1="81.90" y1="1019.70" x2="86.60" y2="1019.70" stroke="#000" stroke-width="1.3"/>
<text x="77.00" y="1024.00" font-size="12" text-anchor="end" class="tk">0</text>
<line x1="84.00" y1="997.68" x2="86.60" y2="997.68" stroke="#000" stroke-width="1.3"/>
<line x1="81.90" y1="975.65" x2="86.60" y2="975.65" stroke="#000" stroke-width="1.3"/>
<text x="77.00" y="979.95" font-size="12" text-anchor="end" class="tk">20</text>
<line x1="84.00" y1="953.62" x2="86.60" y2="953.62" stroke="#000" stroke-width="1.3"/>
<line x1="81.90" y1="931.60" x2="86.60" y2="931.60" stroke="#000" stroke-width="1.3"/>
<text x="77.00" y="935.90" font-size="12" text-anchor="end" class="tk">40</text>
<line x1="84.00" y1="909.58" x2="86.60" y2="909.58" stroke="#000" stroke-width="1.3"/>
<line x1="81.90" y1="887.55" x2="86.60" y2="887.55" stroke="#000" stroke-width="1.3"/>
<text x="77.00" y="891.85" font-size="12" text-anchor="end" class="tk">60</text>
<line x1="84.00" y1="865.52" x2="86.60" y2="865.52" stroke="#000" stroke-width="1.3"/>
<line x1="81.90" y1="843.50" x2="86.60" y2="843.50" stroke="#000" stroke-width="1.3"/>
<text x="77.00" y="847.80" font-size="12" text-anchor="end" class="tk">80</text>
<line x1="84.00" y1="821.48" x2="86.60" y2="821.48" stroke="#000" stroke-width="1.3"/>
<line x1="81.90" y1="799.45" x2="86.60" y2="799.45" stroke="#000" stroke-width="1.3"/>
<text id="t16" x="77.00" y="803.75" font-size="12" text-anchor="end" class="tk"><tspan class="h1">1</tspan>00</text>
<path class="o1 tk" transform="translate(56.953,803.75) scale(0.005871,-0.005859)" d="M515 0L515 1237L197 1010L197 1180L530 1409L696 1409L696 0Z"/>
<line x1="84.00" y1="777.42" x2="86.60" y2="777.42" stroke="#000" stroke-width="1.3"/>
<line x1="81.90" y1="755.40" x2="86.60" y2="755.40" stroke="#000" stroke-width="1.3"/>
<text id="t17" x="77.00" y="759.70" font-size="12" text-anchor="end" class="tk"><tspan class="h1">1</tspan>20</text>
<path class="o1 tk" transform="translate(56.953,759.70) scale(0.005871,-0.005859)" d="M515 0L515 1237L197 1010L197 1180L530 1409L696 1409L696 0Z"/>
<line x1="86.60" y1="1019.70" x2="86.60" y2="1024.20" stroke="#000" stroke-width="1.3"/>
<line x1="146.66" y1="1019.70" x2="146.66" y2="1024.20" stroke="#000" stroke-width="1.3"/>
<line x1="206.72" y1="1019.70" x2="206.72" y2="1024.20" stroke="#000" stroke-width="1.3"/>
<line x1="266.78" y1="1019.70" x2="266.78" y2="1024.20" stroke="#000" stroke-width="1.3"/>
<line x1="326.84" y1="1019.70" x2="326.84" y2="1024.20" stroke="#000" stroke-width="1.3"/>
<line x1="386.90" y1="1019.70" x2="386.90" y2="1024.20" stroke="#000" stroke-width="1.3"/>
<line x1="446.96" y1="1019.70" x2="446.96" y2="1024.20" stroke="#000" stroke-width="1.3"/>
<line x1="507.02" y1="1019.70" x2="507.02" y2="1024.20" stroke="#000" stroke-width="1.3"/>
<line x1="116.63" y1="1019.70" x2="116.63" y2="1021.70" stroke="#000" stroke-width="1.3"/>
<line x1="176.69" y1="1019.70" x2="176.69" y2="1021.70" stroke="#000" stroke-width="1.3"/>
<line x1="236.75" y1="1019.70" x2="236.75" y2="1021.70" stroke="#000" stroke-width="1.3"/>
<line x1="296.81" y1="1019.70" x2="296.81" y2="1021.70" stroke="#000" stroke-width="1.3"/>
<line x1="356.87" y1="1019.70" x2="356.87" y2="1021.70" stroke="#000" stroke-width="1.3"/>
<line x1="416.93" y1="1019.70" x2="416.93" y2="1021.70" stroke="#000" stroke-width="1.3"/>
<line x1="476.99" y1="1019.70" x2="476.99" y2="1021.70" stroke="#000" stroke-width="1.3"/>
<text x="97.55" y="1037.70" font-size="11.7" text-anchor="start" textLength="41.41" lengthAdjust="spacingAndGlyphs" class="xl">Control</text>
<text x="97.78" y="1051.40" font-size="11.7" text-anchor="start" textLength="38.53" lengthAdjust="spacingAndGlyphs" class="xl">sgRNA</text>
<text id="t18" x="155.91" y="1037.70" font-size="11.7" text-anchor="start" textLength="46.17" lengthAdjust="spacingAndGlyphs" class="xl">HMGA<tspan class="h1">1</tspan></text>
<path class="o1 xl" transform="translate(194.845,1037.70) scale(0.006352,-0.005713)" d="M515 0L515 1237L197 1010L197 1180L530 1409L696 1409L696 0Z"/>
<text id="t19" x="153.25" y="1051.40" font-size="11.7" text-anchor="start" textLength="49.67" lengthAdjust="spacingAndGlyphs" class="xl">sgRNA-<tspan class="h1">1</tspan></text>
<path class="o1 xl" transform="translate(196.098,1051.40) scale(0.005990,-0.005713)" d="M515 0L515 1237L197 1010L197 1180L530 1409L696 1409L696 0Z"/>
<text id="t20" x="216.36" y="1037.70" font-size="11.7" text-anchor="start" textLength="46.49" lengthAdjust="spacingAndGlyphs" class="xl">HMGA<tspan class="h1">1</tspan></text>
<path class="o1 xl" transform="translate(255.565,1037.70) scale(0.006396,-0.005713)" d="M515 0L515 1237L197 1010L197 1180L530 1409L696 1409L696 0Z"/>
<text x="213.95" y="1051.40" font-size="11.7" text-anchor="start" textLength="48.61" lengthAdjust="spacingAndGlyphs" class="xl">sgRNA-2</text>
<text x="278.85" y="1037.70" font-size="11.7" text-anchor="start" textLength="37.0" lengthAdjust="spacingAndGlyphs" class="xl">PA2G4</text>
<text id="t21" x="273.82" y="1051.40" font-size="11.7" text-anchor="start" textLength="50.41" lengthAdjust="spacingAndGlyphs" class="xl">sgRNA-<tspan class="h1">1</tspan></text>
<path class="o1 xl" transform="translate(317.306,1051.40) scale(0.006079,-0.005713)" d="M515 0L515 1237L197 1010L197 1180L530 1409L696 1409L696 0Z"/>
<text x="338.85" y="1037.70" font-size="11.7" text-anchor="start" textLength="37.0" lengthAdjust="spacingAndGlyphs" class="xl">PA2G4</text>
<text x="333.29" y="1051.40" font-size="11.7" text-anchor="start" textLength="49.41" lengthAdjust="spacingAndGlyphs" class="xl">sgRNA-2</text>
<text x="406.85" y="1037.70" font-size="11.7" text-anchor="start" textLength="27.53" lengthAdjust="spacingAndGlyphs" class="xl">MYC</text>
<text id="t22" x="396.74" y="1051.40" font-size="11.7" text-anchor="start" textLength="50.09" lengthAdjust="spacingAndGlyphs" class="xl">sgRNA-<tspan class="h1">1</tspan></text>
<path class="o1 xl" transform="translate(439.950,1051.40) scale(0.006040,-0.005713)" d="M515 0L515 1237L197 1010L197 1180L530 1409L696 1409L696 0Z"/>
<text x="465.59" y="1037.70" font-size="11.7" text-anchor="start" textLength="26.61" lengthAdjust="spacingAndGlyphs" class="xl">MYC</text>
<text x="454.69" y="1051.40" font-size="11.7" text-anchor="start" textLength="49.21" lengthAdjust="spacingAndGlyphs" class="xl">sgRNA-2</text>
<text class="yl" transform="translate(47.90,1002.45) rotate(-90)" x="0" y="0" font-size="14.8" text-anchor="start" textLength="59.16" lengthAdjust="spacingAndGlyphs">Percentage</text>
<text class="yl" transform="translate(47.90,941.40) rotate(-90)" x="0" y="0" font-size="14.8" text-anchor="start" textLength="9.88" lengthAdjust="spacingAndGlyphs">of</text>
<text class="yl" transform="translate(47.90,929.58) rotate(-90)" x="0" y="0" font-size="14.8" text-anchor="start" textLength="46.12" lengthAdjust="spacingAndGlyphs">adhesion</text>
<text class="yl" transform="translate(47.90,879.60) rotate(-90)" x="0" y="0" font-size="14.8" text-anchor="start" textLength="59.18" lengthAdjust="spacingAndGlyphs">normalized</text>
<text class="yl" transform="translate(47.90,818.39) rotate(-90)" x="0" y="0" font-size="14.8" text-anchor="start" textLength="10.52" lengthAdjust="spacingAndGlyphs">to</text>
<text class="yl" transform="translate(47.90,805.92) rotate(-90)" x="0" y="0" font-size="14.8" text-anchor="start" textLength="36.74" lengthAdjust="spacingAndGlyphs">control</text>
<text x="10.90" y="751.90" font-size="18.5" text-anchor="start" class="pl">C</text>
<rect x="0.5" y="0.5" width="519" height="1065" fill="none" stroke="#000" stroke-width="1"/>
<rect x="1.5" y="1.5" width="517" height="1063" fill="none" stroke="#646464" stroke-width="1"/>
</svg>
</body></html>
